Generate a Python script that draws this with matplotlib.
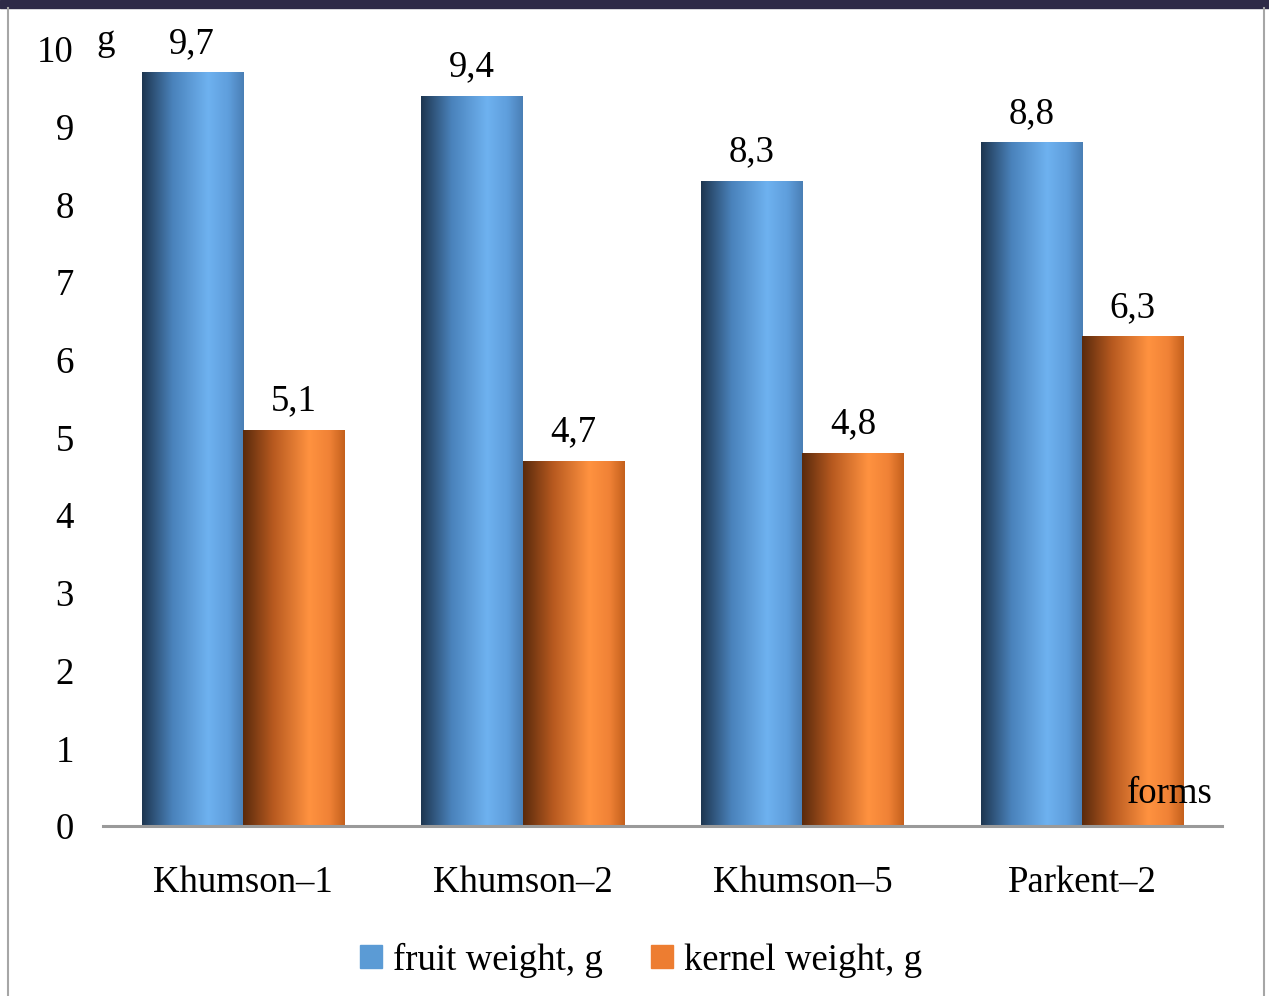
import numpy as np
import matplotlib
matplotlib.use("Agg")
import matplotlib.pyplot as plt
from matplotlib.colors import LinearSegmentedColormap
from matplotlib.patches import Rectangle
from matplotlib.lines import Line2D

categories = ["Khumson\u20131", "Khumson\u20132", "Khumson\u20135", "Parkent\u20132"]
fruit_weight = [9.7, 9.4, 8.3, 8.8]
kernel_weight = [5.1, 4.7, 4.8, 6.3]
series_names = ["fruit weight, g", "kernel weight, g"]
yticks = list(range(0, 11))

plt.rcParams['font.family'] = ['Liberation Serif', 'DejaVu Serif']
FS = 26.5

W, H = 1269, 996
fig = plt.figure(figsize=(W / 100, H / 100), dpi=100)
fig.patch.set_facecolor("white")

# frame decorations
fig.patches.append(Rectangle((0, 1 - 8 / H), 1, 8 / H, transform=fig.transFigure,
                             color="#2e2a47", zorder=0))
fig.lines.append(Line2D([8 / W, 8 / W], [0, 1 - 8 / H], transform=fig.transFigure,
                        color="#a6a6a6", lw=1.5))
fig.lines.append(Line2D([1264 / W, 1264 / W], [0, 1 - 8 / H], transform=fig.transFigure,
                        color="#a6a6a6", lw=1.5))

left, right = 103 / W, 1222 / W
bottom, top = 1 - 826 / H, 1 - 49 / H
ax = fig.add_axes([left, bottom, right - left, top - bottom])
ax.set_xlim(-0.5, 3.5)
ax.set_ylim(0, 10)

x = np.arange(len(categories))
bw = 0.362

blue_cmap = LinearSegmentedColormap.from_list(
    "b", [(0, "#1e3650"), (0.3, "#4a82bb"), (0.65, "#6eb2f0"), (0.85, "#5f9edc"), (1, "#4a7fb5")])
orange_cmap = LinearSegmentedColormap.from_list(
    "o", [(0, "#5a2a0c"), (0.3, "#b85a20"), (0.65, "#ff9240"), (0.85, "#f08236"), (1, "#c4601c")])

grad = np.linspace(0, 1, 256).reshape(1, -1)

def gradient_bars(xs, vals, cmap):
    bars = ax.bar(xs, vals, bw, color="none", edgecolor="none", zorder=2)
    for p in bars.patches:
        x0, w, h = p.get_x(), p.get_width(), p.get_height()
        im = ax.imshow(grad, cmap=cmap, extent=(x0, x0 + w, 0, h), aspect="auto",
                       interpolation="bilinear", zorder=2)
        im.set_clip_path(p)
    return bars

gradient_bars(x - bw / 2, fruit_weight, blue_cmap)
gradient_bars(x + bw / 2, kernel_weight, orange_cmap)
ax.set_xlim(-0.5, 3.5)
ax.set_ylim(0, 10)

for xs, vals in ((x - bw / 2, fruit_weight), (x + bw / 2, kernel_weight)):
    for xi, v in zip(xs, vals):
        ax.annotate(f"{v:.1f}".replace(".", ","), (xi, v), xytext=(0, 14),
                    textcoords="offset points", ha="center", va="baseline", fontsize=FS)

for s in ["top", "right", "left"]:
    ax.spines[s].set_visible(False)
ax.spines["bottom"].set_color("#9a9a9a")
ax.spines["bottom"].set_linewidth(2.2)
ax.spines["bottom"].set_zorder(3)
ax.set_yticks(yticks)
ax.set_yticklabels([str(t) for t in yticks], fontsize=FS)
ax.set_xticks(x)
ax.set_xticklabels(categories, fontsize=FS)
ax.tick_params(axis="y", length=0, pad=21)
ax.tick_params(axis="x", length=0, pad=28.5)

fig.text(106 / W, 1 - 50 / H, "g", fontsize=FS, ha="center", va="baseline")
fig.text(1170 / W, 1 - 803 / H, "forms", fontsize=FS, ha="center", va="baseline", zorder=5)

handles = [Rectangle((0, 0), 1, 1, color="#5b9bd5"), Rectangle((0, 0), 1, 1, color="#ed7d31")]
fig.legend(handles, series_names, loc="center", bbox_to_anchor=(641 / W, 1 - 960 / H),
           ncol=2, frameon=False, fontsize=FS, handlelength=0.6, handleheight=0.6,
           handletextpad=0.3, columnspacing=1.3)

fig.savefig("out.png", dpi=100)
